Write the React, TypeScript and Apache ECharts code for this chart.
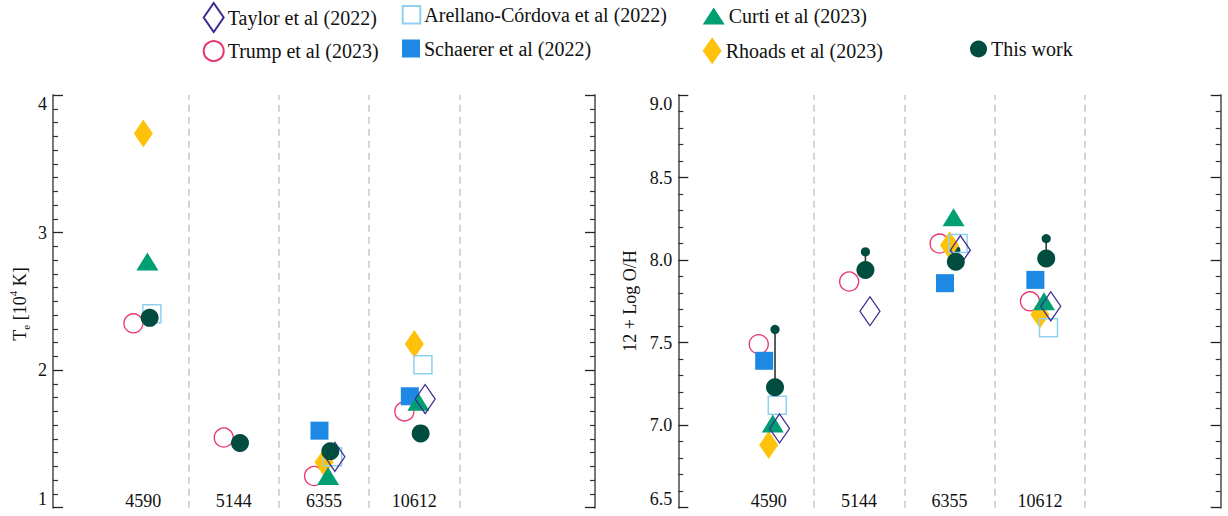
import React, { useEffect, useRef } from "react";
import * as echarts from "echarts";

// Galaxy IDs shown along the x axis
const categories = ["4590", "5144", "6355", "10612"];

// Electron temperature Te [10^4 K] per galaxy (null = no measurement)
const teTaylor = [null, null, 1.37, 1.79];
const teArellano = [2.41, null, 1.37, 2.04];
const teCurti = [2.79, null, 1.23, 1.77];
const teTrump = [2.34, 1.51, 1.23, 1.7];
const teSchaerer = [null, null, 1.56, 1.81];
const teRhoads = [3.72, null, 1.33, 2.19];
const teThisWork = [2.38, 1.47, 1.41, 1.54];

// Oxygen abundance 12 + log(O/H) per galaxy
const ohTaylor = [6.98, 7.69, 8.06, 7.72];
const ohArellano = [7.12, null, 8.1, 7.59];
const ohCurti = [7.01, null, 8.26, 7.75];
const ohTrump = [7.49, 7.87, 8.1, 7.75];
const ohSchaerer = [7.39, null, 7.86, 7.88];
const ohRhoads = [6.88, null, 8.09, 7.67];
const ohThisWork = [7.23, 7.94, 7.99, 8.01];
const ohThisWorkAlt = [7.58, 8.05, 8.06, 8.13];

// Axis tick values
const teTicks = [1, 2, 3, 4];
const ohTicks = [6.5, 7.0, 7.5, 8.0, 8.5, 9.0];

const FONT = "'Liberation Serif', 'Times New Roman', serif";

type Style = {
  name: string;
  symbol: string;
  size: number | number[];
  fill: string;
  stroke?: string;
  lw?: number;
  dx: number;
  legend: { left: number; cy: number; w: number; h: number };
};

const styles: Record<string, Style> = {
  trump: {
    name: "Trump et al (2023)",
    symbol: "circle",
    size: 19,
    fill: "rgba(0,0,0,0)",
    stroke: "#e8336b",
    lw: 1.3,
    dx: -0.11,
    legend: { left: 202.7, cy: 52, w: 20, h: 20 },
  },
  schaerer: {
    name: "Schaerer et al (2022)",
    symbol: "rect",
    size: 18,
    fill: "#1e88e5",
    dx: -0.05,
    legend: { left: 402, cy: 50.5, w: 18, h: 18 },
  },
  rhoads: {
    name: "Rhoads et al (2023)",
    symbol: "diamond",
    size: [19, 28],
    fill: "#ffc20a",
    dx: 0,
    legend: { left: 702.7, cy: 50.7, w: 19, h: 27 },
  },
  arellano: {
    name: "Arellano-Córdova et al (2022)",
    symbol: "rect",
    size: 18,
    fill: "rgba(0,0,0,0)",
    stroke: "#8fd0f0",
    lw: 1.5,
    dx: 0.095,
    legend: { left: 401.7, cy: 16.7, w: 17.6, h: 17.6 },
  },
  curti: {
    name: "Curti et al (2023)",
    symbol: "triangle",
    size: [22, 18],
    fill: "#009e73",
    dx: 0.045,
    legend: { left: 702.7, cy: 18, w: 22, h: 17 },
  },
  taylor: {
    name: "Taylor et al (2022)",
    symbol: "diamond",
    size: [20, 29],
    fill: "rgba(0,0,0,0)",
    stroke: "#3b2a8f",
    lw: 1.3,
    dx: 0.12,
    legend: { left: 202.7, cy: 16.5, w: 20, h: 29 },
  },
  thisWork: {
    name: "This work",
    symbol: "circle",
    size: 18,
    fill: "#004d40",
    dx: 0.07,
    legend: { left: 970, cy: 51, w: 17, h: 17 },
  },
};

// drawing order, back to front
const order = ["trump", "schaerer", "rhoads", "arellano", "curti", "taylor", "thisWork"];

const teData: Record<string, (number | null)[]> = {
  taylor: teTaylor,
  arellano: teArellano,
  curti: teCurti,
  trump: teTrump,
  schaerer: teSchaerer,
  rhoads: teRhoads,
  thisWork: teThisWork,
};
const ohData: Record<string, (number | null)[]> = {
  taylor: ohTaylor,
  arellano: ohArellano,
  curti: ohCurti,
  trump: ohTrump,
  schaerer: ohSchaerer,
  rhoads: ohRhoads,
  thisWork: ohThisWork,
};

function points(vals: (number | null)[], dx: number) {
  const out: number[][] = [];
  vals.forEach((v, i) => {
    if (v !== null) out.push([i + 1 + dx, v]);
  });
  return out;
}

function scatter(key: string, vals: (number | null)[], gridIndex: number) {
  const s = styles[key];
  return {
    type: "scatter",
    name: s.name,
    xAxisIndex: gridIndex,
    yAxisIndex: gridIndex * 2,
    symbol: s.symbol,
    symbolSize: s.size,
    itemStyle: {
      color: s.fill,
      borderColor: s.stroke || s.fill,
      borderWidth: s.stroke ? s.lw : 0,
      opacity: 1,
    },
    data: points(vals, s.dx),
    z: 3,
  };
}

function separators(gridIndex: number) {
  return {
    type: "scatter",
    xAxisIndex: gridIndex,
    yAxisIndex: gridIndex * 2,
    data: [],
    silent: true,
    markLine: {
      symbol: "none",
      silent: true,
      label: { show: false },
      lineStyle: { color: "#c8c8c8", width: 1.5, type: [7, 5] },
      data: categories.map((_, i) => ({ xAxis: i + 1.5 })),
    },
    z: 1,
  };
}

function xAxis(gridIndex: number) {
  return {
    type: "value",
    gridIndex,
    min: 0,
    max: 6,
    interval: 1,
    axisLine: { show: false },
    axisTick: { show: false },
    splitLine: { show: false },
    axisLabel: {
      inside: true,
      margin: -2,
      fontSize: 18,
      fontFamily: FONT,
      color: "#111",
      formatter: (v: number) => categories[Math.round(v) - 1] ?? "",
    },
  };
}

function yAxes(gridIndex: number, ticks: number[], minorSplit: number, fmt: (v: number) => string) {
  const min = ticks[0];
  const max = ticks[ticks.length - 1];
  const interval = ticks[1] - ticks[0];
  const common = {
    type: "value",
    gridIndex,
    min,
    max,
    interval,
    splitLine: { show: false },
    axisLine: { show: true, lineStyle: { color: "#777", width: 2 } },
    axisTick: { show: true, inside: true, length: 10, lineStyle: { color: "#222", width: 1.3 } },
    minorTick: { show: true, splitNumber: minorSplit, length: 5, lineStyle: { color: "#333", width: 1.2 } },
    minorSplitLine: { show: false },
  };
  return [
    {
      ...common,
      position: "left",
      axisLabel: {
        fontSize: 18,
        fontFamily: FONT,
        color: "#111",
        margin: 6,
        formatter: fmt,
        verticalAlignMinLabel: "bottom",
        verticalAlignMaxLabel: "top",
      },
    },
    {
      ...common,
      position: "right",
      axisLabel: { show: false },
    },
  ];
}

export default function App() {
  const ref = useRef<HTMLDivElement>(null);

  useEffect(() => {
    if (!ref.current) return;
    const chart = echarts.init(ref.current, undefined, { renderer: "svg" });

    const series: any[] = [separators(0), separators(1)];
    order.forEach((k) => series.push(scatter(k, teData[k], 0)));
    order.forEach((k) => {
      if (k === "thisWork") {
        // alternative estimate joined to the main value by a thin stem
        series.push({
          type: "custom",
          name: "This work (alt)",
          xAxisIndex: 1,
          yAxisIndex: 2,
          z: 3,
          data: ohThisWork.map((v, i) => [i + 1 + styles.thisWork.dx, v, ohThisWorkAlt[i]]),
          renderItem: (_p: any, api: any) => {
            const x = api.value(0);
            const a = api.coord([x, api.value(1)]);
            const b = api.coord([x, api.value(2)]);
            return {
              type: "group",
              children: [
                {
                  type: "line",
                  shape: { x1: a[0], y1: a[1], x2: b[0], y2: b[1] },
                  style: { stroke: "#333", lineWidth: 1.6 },
                },
                {
                  type: "circle",
                  shape: { cx: b[0], cy: b[1], r: 4.6 },
                  style: { fill: styles.thisWork.fill },
                },
              ],
            };
          },
        });
      }
      series.push(scatter(k, ohData[k], 1));
    });

    const legendOrder = ["taylor", "arellano", "curti", "trump", "schaerer", "rhoads", "thisWork"];
    const legends = legendOrder.map((k) => {
      const s = styles[k];
      const h = Math.max(s.legend.h, 24);
      return {
        data: [{ name: s.name, icon: s.symbol }],
        left: s.legend.left,
        top: s.legend.cy - h / 2,
        orient: "horizontal",
        padding: 0,
        itemGap: 0,
        itemWidth: s.legend.w,
        itemHeight: s.legend.h,
        selectedMode: false,
        textStyle: { fontSize: 20, fontFamily: FONT, color: "#111", padding: [0, 0, 4, -1] },
      };
    });

    chart.setOption({
      animation: false,
      backgroundColor: "#ffffff",
      legend: legends,
      grid: [
        { left: 53, top: 95, width: 542, height: 412.7 },
        { left: 678.3, top: 95, width: 542.4, height: 412.7 },
      ],
      xAxis: [xAxis(0), xAxis(1)],
      yAxis: [
        ...yAxes(0, teTicks, 10, (v) => String(Math.round(v))),
        ...yAxes(1, ohTicks, 5, (v) => v.toFixed(1)),
      ],
      graphic: [
        {
          type: "text",
          x: 19.5,
          y: 304,
          rotation: Math.PI / 2,
          style: {
            text: "{b|T}{sub|e}{b| [10}{sup|4}{b| K]}",
            align: "center",
            verticalAlign: "middle",
            fill: "#111",
            rich: {
              b: { fontSize: 18, fontFamily: FONT, lineHeight: 24, fill: "#111" },
              sub: { fontSize: 11, fontFamily: FONT, verticalAlign: "bottom", fill: "#111" },
              sup: { fontSize: 11, fontFamily: FONT, verticalAlign: "top", fill: "#111" },
            },
          },
        },
        {
          type: "text",
          x: 630,
          y: 301,
          rotation: Math.PI / 2,
          style: {
            text: "12 + Log O/H",
            align: "center",
            verticalAlign: "middle",
            fontSize: 18,
            fontFamily: FONT,
            fill: "#111",
          },
        },
      ],
      series,
    });

    return () => chart.dispose();
  }, []);

  return (
    <div
      ref={ref}
      style={{ position: "absolute", left: 0, top: 0, width: 1228, height: 516, background: "#fff" }}
    />
  );
}
